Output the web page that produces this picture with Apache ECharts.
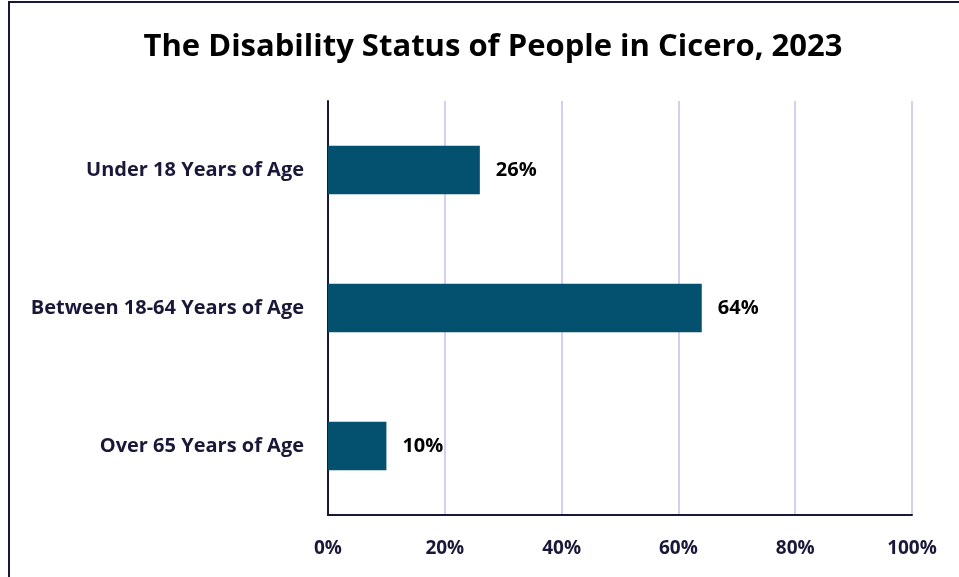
<!DOCTYPE html>
<html>
<head>
<meta charset="utf-8">
<script src="https://cdn.jsdelivr.net/npm/echarts@6/dist/echarts.min.js"></script>
<style>
  html, body { margin: 0; padding: 0; background: #ffffff; }
  #chart { width: 959px; height: 577px; }
</style>
</head>
<body>
<div id="chart"></div>
<script>
// Age groups (top to bottom) and share of people with a disability in each
const categories = ['Under 18 Years of Age', 'Between 18-64 Years of Age', 'Over 65 Years of Age'];
const shares = [26, 64, 10];
const xTicks = [0, 20, 40, 60, 80, 100];

const FONT = '"Open Sans", Lato, sans-serif';
const chart = echarts.init(document.getElementById('chart'));

chart.setOption({
  backgroundColor: '#ffffff',
  animation: false,
  title: {
    text: 'The Disability Status of People in Cicero, 2023',
    left: 488,
    top: 27,
    textAlign: 'center',
    textStyle: { fontFamily: FONT, fontSize: 31, fontWeight: 'bold', color: '#000000' }
  },
  graphic: [{
    type: 'rect',
    shape: { x: 9, y: 2, width: 1200, height: 1200 },
    style: { fill: 'none', stroke: '#1a1838', lineWidth: 2 },
    silent: true
  }],
  grid: { left: 328, right: 47, top: 101, bottom: 62 },
  xAxis: {
    type: 'value',
    min: xTicks[0],
    max: xTicks[xTicks.length - 1],
    interval: xTicks[1] - xTicks[0],
    axisLine: { show: true, lineStyle: { color: '#1a1838', width: 2 } },
    axisTick: { show: false },
    splitLine: { show: true, lineStyle: { color: '#d2d0f0', width: 2 } },
    axisLabel: {
      margin: 24,
      formatter: v => v + '%',
      fontFamily: FONT, fontSize: 19, fontWeight: 'bold', color: '#1a1838'
    }
  },
  yAxis: {
    type: 'category',
    data: categories,
    inverse: true,
    axisLine: { show: true, lineStyle: { color: '#1a1838', width: 2 } },
    axisTick: { show: false },
    axisLabel: {
      margin: 24,
      fontFamily: FONT, fontSize: 20, fontWeight: 'bold', color: '#1a1838'
    }
  },
  series: [{
    type: 'bar',
    data: shares,
    barWidth: '35%',
    itemStyle: { color: '#03506f' },
    label: {
      show: true,
      position: 'right',
      distance: 16,
      formatter: p => p.value + '%',
      fontFamily: FONT, fontSize: 20, fontWeight: 'bold', color: '#000000'
    }
  }]
});
</script>
</body>
</html>
